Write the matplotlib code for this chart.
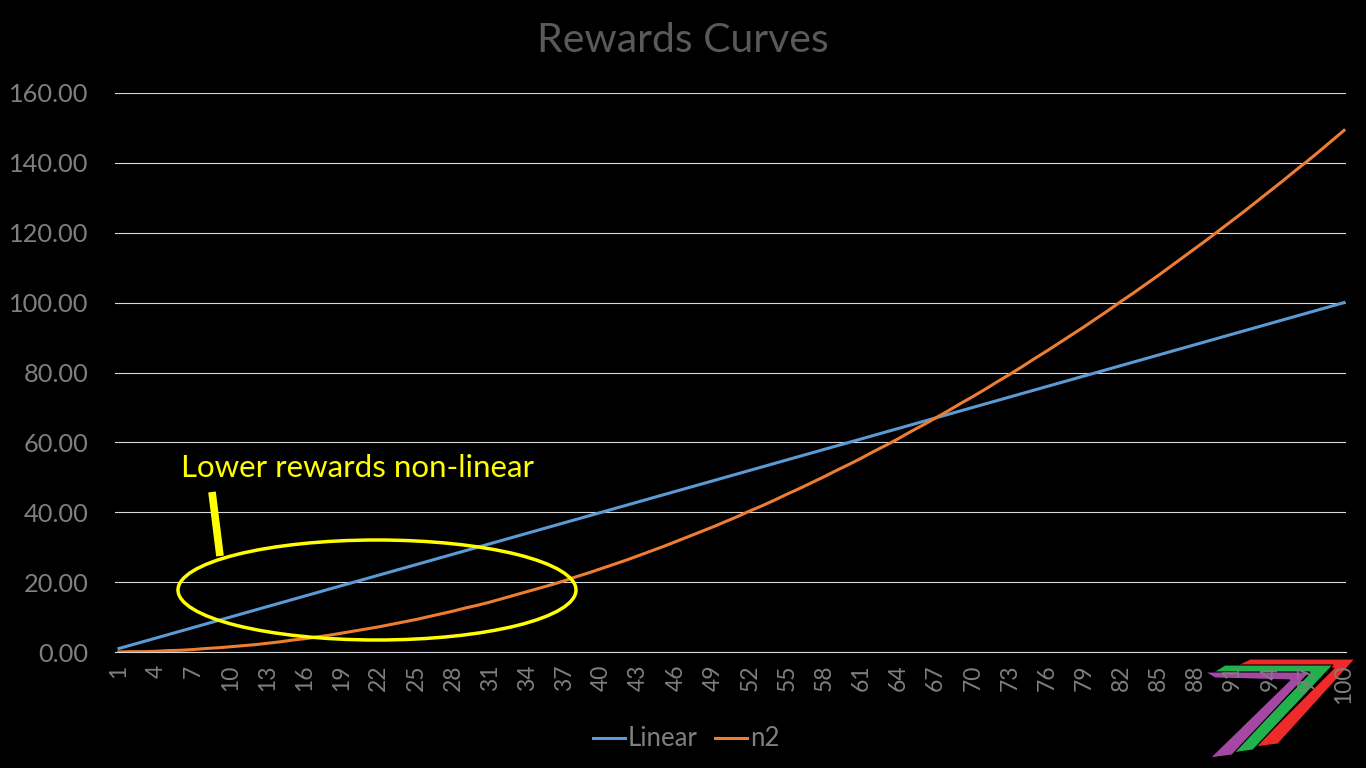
import matplotlib
matplotlib.use("Agg")
import matplotlib.pyplot as plt
from matplotlib.patches import Ellipse, Polygon
from matplotlib.lines import Line2D

plt.rcParams['font.family'] = ['Lato', 'DejaVu Sans']

# ---- data ----
periods = list(range(1, 101))
linear = [float(n) for n in periods]
n2 = [0.0, 0.1, 0.1, 0.2, 0.4, 0.5, 0.7, 1.0, 1.2, 1.5,
      1.8, 2.1, 2.5, 2.9, 3.4, 3.8, 4.3, 4.8, 5.4, 6.0,
      6.6, 7.2, 7.9, 8.6, 9.3, 10.1, 10.9, 11.7, 12.6, 13.4,
      14.3, 15.3, 16.3, 17.3, 18.3, 19.3, 20.4, 21.6, 22.7, 23.9,
      25.1, 26.3, 27.6, 28.9, 30.2, 31.6, 33.0, 34.4, 35.8, 37.3,
      38.8, 40.4, 41.9, 43.5, 45.2, 46.8, 48.5, 50.2, 52.0, 53.7,
      55.5, 57.4, 59.2, 61.1, 63.1, 65.0, 67.0, 69.0, 71.1, 73.1,
      75.2, 77.4, 79.5, 81.7, 84.0, 86.2, 88.5, 90.8, 93.1, 95.5,
      97.9, 100.4, 102.8, 105.3, 107.8, 110.4, 113.0, 115.6, 118.2, 120.9,
      123.6, 126.3, 129.1, 131.9, 134.7, 137.6, 140.4, 143.3, 146.3, 149.3]
series_names = ["Linear", "n2"]
yticks = [0, 20, 40, 60, 80, 100, 120, 140, 160]
xtick_labels = [str(v) for v in range(1, 101, 3)]
title = "Rewards Curves"
note = "Lower rewards non-linear"

W, H = 1366, 768
fig = plt.figure(figsize=(W / 100, H / 100), dpi=100, facecolor='black')

def fx(x):
    return x / W

def fy(y):
    return 1 - y / H

ax = fig.add_axes([fx(115), fy(652), fx(1346) - fx(115), fy(93) - fy(652)])
ax.set_facecolor('none')

ax.plot(periods, linear, color='#5b9bd5', lw=2.2, zorder=3, label=series_names[0])
ax.plot(periods, n2, color='#ed7d31', lw=2.2, zorder=3, label=series_names[1])

ax.set_ylim(0, 160)
ax.set_xlim(0.68, 100.16)
ax.set_yticks(yticks)
ax.set_yticklabels([f"{v:.2f}" for v in yticks])
ax.set_xticks(list(range(1, 101, 3)))
ax.set_xticklabels(xtick_labels, rotation=90)
ax.grid(axis='y', color='#d9d9d9', lw=0.8)
ax.set_axisbelow(True)
for s in ['top', 'right', 'left']:
    ax.spines[s].set_visible(False)
ax.spines['bottom'].set_color('#d9d9d9')
ax.spines['bottom'].set_linewidth(0.8)
ax.tick_params(axis='y', length=0, pad=19, labelsize=18.3, labelcolor='#7f7f7f')
ax.tick_params(axis='x', length=0, pad=9, labelsize=16.5, labelcolor='#7f7f7f')

fig.text(0.5, fy(40), title, ha='center', va='center', fontsize=29.5, color='#595959')

leg = ax.legend(loc='center', bbox_to_anchor=(fx(686), fy(739)), bbox_transform=fig.transFigure,
                ncol=2, frameon=False, fontsize=18.5, labelcolor='#7f7f7f',
                handlelength=1.25, handletextpad=0.1, columnspacing=0.7)

# annotation
fig.patches.append(Ellipse((fx(377), fy(590)), fx(398), 100 / H, transform=fig.transFigure,
                           fill=False, ec='#ffff00', lw=2.5, zorder=5))
fig.lines.append(Line2D([fx(212), fx(220)], [fy(492), fy(556)], transform=fig.transFigure,
                        color='#ffff00', lw=5.5, solid_capstyle='butt', zorder=5))
fig.text(fx(181), fy(477), note, ha='left', va='baseline', fontsize=22.5, color='#ffff00')

# logo
def poly(pts, color):
    p = Polygon([(fx(x), fy(y)) for x, y in pts], closed=True, transform=fig.transFigure,
                fc=color, ec='black', lw=0.8, zorder=-1)
    fig.patches.append(p)

poly([(1250, 659), (1355, 659), (1278, 744), (1255, 747), (1334, 668), (1232, 668)], '#ee2a2a')
poly([(1225, 665), (1333, 665), (1253, 750), (1232, 753), (1310, 673), (1212, 673)], '#22b14c')
poly([(1205, 672), (1310, 672), (1232, 755), (1210, 758), (1290, 680), (1215, 678)], '#a349a4')

fig.savefig('out.png', dpi=100, facecolor='black')
